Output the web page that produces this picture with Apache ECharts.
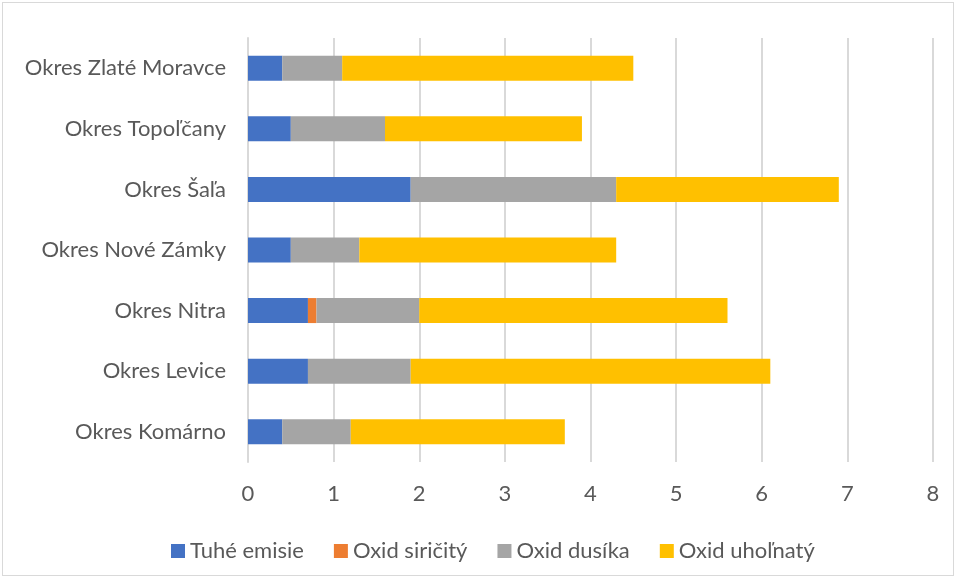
<!DOCTYPE html>
<html><head><meta charset="utf-8">
<script src="https://cdn.jsdelivr.net/npm/echarts@6/dist/echarts.min.js"></script>
<style>
html,body{margin:0;padding:0;background:#fff;}
#wrap{position:absolute;left:2px;top:2px;width:952px;height:574px;border:1px solid #d9d9d9;box-sizing:border-box;}
#c{position:absolute;left:0;top:0;width:958px;height:579px;}
</style></head><body>
<div id="wrap"></div>
<div id="c"></div>
<script>
const categories = ["Okres Komárno","Okres Levice","Okres Nitra","Okres Nové Zámky","Okres Šaľa","Okres Topoľčany","Okres Zlaté Moravce"];
const seriesNames = ["Tuhé emisie","Oxid siričitý","Oxid dusíka","Oxid uhoľnatý"];
const tuheEmisie   = [0.4, 0.7, 0.7, 0.5, 1.9, 0.5, 0.4];
const oxidSiricity = [0, 0, 0.1, 0, 0, 0, 0];
const oxidDusika   = [0.8, 1.2, 1.2, 0.8, 2.4, 1.1, 0.7];
const oxidUholnaty = [2.5, 4.2, 3.6, 3.0, 2.6, 2.3, 3.4];
const xTicks = [0,1,2,3,4,5,6,7,8];

const colors = ["#4472C4","#ED7D31","#A5A5A5","#FFC000"];
const dataSets = [tuheEmisie, oxidSiricity, oxidDusika, oxidUholnaty];
const font = "Lato, sans-serif";
const fs = 22;

const chart = echarts.init(document.getElementById('c'), null, {renderer:'canvas'});
chart.setOption({
  animation:false,
  color: colors,
  textStyle:{fontFamily:font},
  grid:{left:248, right:25, top:38, bottom:117, containLabel:false},
  legend:{
    top:535, left:166,
    itemWidth:14, itemHeight:14, itemGap:30,
    icon:'rect',
    textStyle:{color:'#595959', fontSize:fs, fontFamily:font},
    data: seriesNames
  },
  xAxis:{
    type:'value', min:xTicks[0], max:xTicks[xTicks.length-1], interval:1,
    axisLine:{show:false}, axisTick:{show:false},
    splitLine:{show:true, lineStyle:{color:'#d9d9d9', width:2}},
    axisLabel:{color:'#595959', fontSize:fs, margin:21, fontFamily:font}
  },
  yAxis:{
    type:'category', data:categories,
    axisLine:{show:true, lineStyle:{color:'#d9d9d9', width:2}},
    axisTick:{show:false},
    axisLabel:{color:'#595959', fontSize:fs, margin:22, fontFamily:font}
  },
  series: seriesNames.map((n,i)=>({
    name:n, type:'bar', stack:'total', barWidth:25,
    data: dataSets[i],
    itemStyle:{color:colors[i]}
  }))
});
</script>
</body></html>
